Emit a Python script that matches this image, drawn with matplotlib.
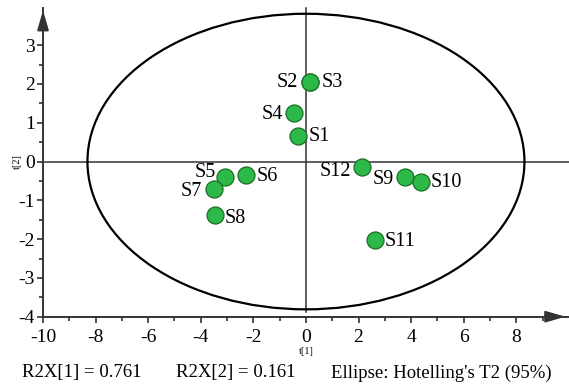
import numpy as np
import matplotlib
matplotlib.use("Agg")
import matplotlib.pyplot as plt
from matplotlib.patches import Ellipse
from matplotlib.ticker import MultipleLocator

# score values t[1], t[2]
samples = ["S1", "S2", "S3", "S4", "S5", "S6", "S7", "S8", "S9", "S10", "S11", "S12"]
t1 = [-0.29, 0.15, 0.15, -0.46, -3.08, -2.28, -3.50, -3.47, 3.78, 4.36, 2.62, 2.12]
t2 = [0.67, 2.04, 2.04, 1.24, -0.39, -0.35, -0.72, -1.39, -0.41, -0.53, -2.01, -0.14]
# label offsets (points) and alignment
lab_dx = [7.7, -8.6, 8.4, -7.9, -6.7, 7.7, -8.9, 7.4, -8.6, 7.2, 7.2, -7.9]
lab_dy = [-0.5, 0, 0, -0.5, 3.3, -1.2, -1.2, -2.2, -1.4, 0, -1.2, -3.6]

ell_a, ell_b = 8.31, 3.81  # Hotelling T2 ellipse half axes
r2x = [0.761, 0.161]

plt.rcParams['font.family'] = ['Liberation Serif', 'DejaVu Serif']
plt.rcParams['axes.unicode_minus'] = False
axcol = '#333333'

fig = plt.figure(figsize=(5.69, 3.85), dpi=100)
ax = fig.add_axes([0.0756, 0.1774, 0.9228, 0.803])
ax.set_xlim(-10, 9.97)
ax.set_ylim(-4, 3.97)

for s in ['top', 'right']:
    ax.spines[s].set_visible(False)
for s in ['left', 'bottom']:
    ax.spines[s].set_linewidth(1.4)
    ax.spines[s].set_color(axcol)

ax.xaxis.set_major_locator(MultipleLocator(2))
ax.xaxis.set_minor_locator(MultipleLocator(1))
ax.yaxis.set_major_locator(MultipleLocator(1))
ax.yaxis.set_minor_locator(MultipleLocator(0.5))
ax.set_xticks(np.arange(-10, 9, 2))
ax.set_yticks(np.arange(-4, 4, 1))
ax.tick_params(which='major', length=4, width=1.2, color=axcol, labelsize=14, pad=2)
ax.tick_params(which='minor', length=3, width=1.2, color=axcol)
ax.tick_params(axis='x', which='major', pad=5)

# arrows at axis ends
arr = dict(arrowstyle='-|>,head_length=1.2,head_width=0.35', lw=1.4, color=axcol)
ax.annotate('', xy=(0, 1.0), xycoords='axes fraction', xytext=(0, 0.93),
            arrowprops=arr, annotation_clip=False)
ax.annotate('', xy=(1.0, 0), xycoords='axes fraction', xytext=(0.95, 0),
            arrowprops=arr, annotation_clip=False)

# zero lines
ax.plot([-10, 10.05], [0, 0], color=axcol, lw=1.1, clip_on=False, zorder=1)
ax.plot([0, 0], [-3.87, 3.97], color=axcol, lw=1.1, clip_on=False, zorder=1)

ax.add_patch(Ellipse((0, 0), 2 * ell_a, 2 * ell_b, fill=False, ec='black', lw=1.6, zorder=2))

ax.scatter(t1, t2, s=150, c='#2db84a', edgecolors='#1b6e22', linewidths=0.9, zorder=3)
for name, x, y, dx, dy in zip(samples, t1, t2, lab_dx, lab_dy):
    ax.annotate(name, (x, y), xytext=(dx, dy), textcoords='offset points',
                ha='left' if dx > 0 else 'right', va='center', fontsize=14.5, zorder=4)

fig.text(306 / 569, 1 - 352 / 385, 't[1]', fontsize=7.5, ha='center', va='center')
fig.text(17 / 569, 1 - 162 / 385, 't[2]', fontsize=7.5, ha='center', va='center', rotation=90)

fig.text(22 / 569, 1 - 373 / 385, f'R2X[1] = {r2x[0]}', fontsize=13.5, ha='left', va='center')
fig.text(176 / 569, 1 - 373 / 385, f'R2X[2] = {r2x[1]}', fontsize=13.5, ha='left', va='center')
fig.text(331 / 569, 1 - 373 / 385, "Ellipse: Hotelling's T2 (95%)", fontsize=13.5, ha='left', va='center')

fig.savefig('out.png', dpi=100)
